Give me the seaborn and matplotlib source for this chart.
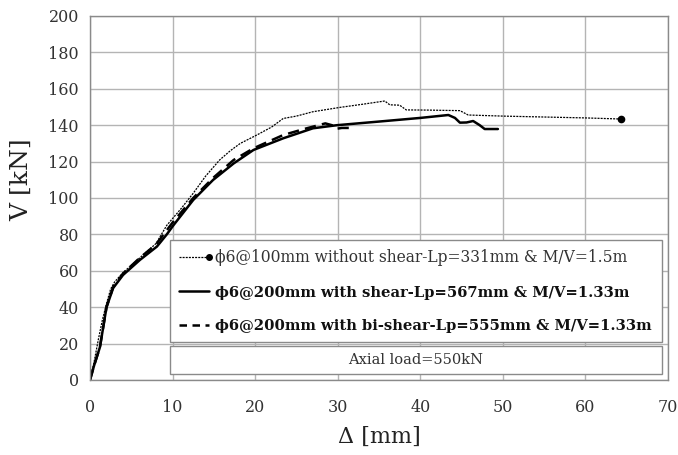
import numpy as np
import pandas as pd
import matplotlib
matplotlib.use("Agg")
import matplotlib.pyplot as plt
import seaborn as sns
from matplotlib.legend_handler import HandlerLine2D
from matplotlib.lines import Line2D
from matplotlib.patches import Rectangle
from matplotlib.ticker import MultipleLocator

# ---- data ----
x_noshear = [0, 0.5, 1.0, 1.5, 2.0, 2.5, 3.0, 4.0, 5.0, 6.0, 8.0, 9.3, 11, 12.5, 14, 15.7, 17, 18.2,
             20.2, 22, 23.4, 25, 27, 30.3, 33, 35.7, 36.3, 37.5, 38.3, 41, 44.8, 45.8, 50, 55, 60, 64.3]
y_noshear = [0, 10, 22, 33, 42, 50, 54, 59, 63, 67, 75, 85, 94, 102.6, 112, 120.9, 126, 130,
             134.6, 139, 143.7, 145, 147.4, 149.8, 151.5, 153.3, 151.2, 151, 148.4, 148.3, 148, 145.6,
             145, 144.5, 144, 143.4]

x_shear = [0, 0.5, 1.2, 2.0, 2.8, 4.0, 6.05, 8.1, 9.3, 10.1, 12.5, 14.9, 17.4, 19.8, 23.4, 27.0,
           29.9, 35, 40, 43.4, 44.2, 44.8, 45.6, 46.4, 47.2, 47.8, 49.4]
y_shear = [0, 8, 18, 40, 50.5, 57.7, 66, 73.3, 80, 85, 98.9, 109.9, 119, 126.4, 132.8, 138.3,
           140, 142, 144, 145.6, 144, 141.4, 141.5, 142.3, 140, 137.9, 137.9]

x_bishear = [0, 0.5, 1.2, 2.0, 2.8, 4.0, 6.0, 8.0, 10.0, 12.5, 14.9, 17.4, 19.8, 23.4, 26, 28.5,
             29.3, 29.8, 30.5, 31.5]
y_bishear = [0, 8, 18, 40, 51, 58.5, 67, 74.5, 86.5, 100, 111, 120.9, 127.3, 134.6, 138, 141,
             140, 138, 138.5, 138.5]

labels = ["ϕ6@100mm without shear-Lp=331mm & M/V=1.5m",
          "ϕ6@200mm with shear-Lp=567mm & M/V=1.33m",
          "ϕ6@200mm with bi-shear-Lp=555mm & M/V=1.33m"]
axial_text = "Axial load=550kN"
x_label = "Δ [mm]"
y_label = "V [kN]"

# ---- style ----
sns.set_style("white")
plt.rcParams["font.family"] = ["DejaVu Serif"]

fig = plt.figure(figsize=(6.78, 4.55), dpi=100)
ax = fig.add_axes([90/678, 1-380/455, 578/678, 364/455])

sns.lineplot(x=x_noshear, y=y_noshear, ax=ax, sort=False, estimator=None,
             color="black", linewidth=0.9, linestyle=(0, (1.6, 0.9)))
sns.lineplot(x=x_shear, y=y_shear, ax=ax, sort=False, estimator=None,
             color="black", linewidth=1.8)
sns.lineplot(x=x_bishear, y=y_bishear, ax=ax, sort=False, estimator=None,
             color="black", linewidth=1.8, linestyle=(0, (4.5, 2.5)))
ax.plot([x_noshear[-1]], [y_noshear[-1]], marker="o", color="black", markersize=4.5)

ax.set_xlim(0, 70)
ax.set_ylim(0, 200)
ax.xaxis.set_major_locator(MultipleLocator(10))
ax.xaxis.set_minor_locator(MultipleLocator(2))
ax.yaxis.set_major_locator(MultipleLocator(20))
ax.yaxis.set_minor_locator(MultipleLocator(4))
ax.grid(True, which="major", color="#b4b4b4", linewidth=1.0)
ax.tick_params(which="major", direction="in", length=6, width=1, color="#707070",
               labelsize=11.5, labelcolor="#333333")
ax.tick_params(which="minor", direction="in", length=3, width=1, color="#707070")
ax.tick_params(axis="y", which="major", pad=8)
ax.tick_params(axis="x", which="major", pad=14)
for s in ax.spines.values():
    s.set_color("#8a8a8a")
    s.set_linewidth(1.0)

ax.set_xlabel(x_label, fontsize=16, color="#222222", labelpad=7)
ax.set_ylabel(y_label, fontsize=18, color="#222222")
ax.yaxis.set_label_coords(-0.099, 0.55)


class EndMarkerHandler(HandlerLine2D):
    def create_artists(self, legend, orig_handle, xdescent, ydescent, width, height,
                       fontsize, trans):
        arts = super().create_artists(legend, orig_handle, xdescent, ydescent, width,
                                      height, fontsize, trans)
        for a in arts:
            a.set_markevery([2])
        return arts


h1 = Line2D([], [], color="black", linewidth=0.9, linestyle=(0, (1.6, 0.9)),
            marker="o", markersize=4)
h2 = Line2D([], [], color="black", linewidth=1.8)
h3 = Line2D([], [], color="black", linewidth=1.8, linestyle=(0, (3, 2.2)))
leg = ax.legend([h1, h2, h3], labels, handler_map={h1: EndMarkerHandler(numpoints=1)},
                loc="upper left", bbox_to_anchor=(0.138, 0.104, 0.852, 0.281),
                mode="expand", borderaxespad=0, fancybox=False, framealpha=1,
                edgecolor="#8a8a8a", fontsize=10.8, handlelength=2.0, handletextpad=0.4,
                labelspacing=1.3, borderpad=0.62)
leg.get_frame().set_linewidth(1.0)
texts = leg.get_texts()
texts[0].set_color("#333333")
texts[0].set_fontsize(11.2)
for t in texts[1:]:
    t.set_fontweight("bold")
    t.set_color("#111111")
    t.set_fontsize(10.65)

ax.add_patch(Rectangle((0.138, 0.016), 0.852, 0.077, transform=ax.transAxes,
                       facecolor="white", edgecolor="#8a8a8a", linewidth=1.0, zorder=5))
ax.text(0.138 + 0.852/2, 0.016 + 0.077/2, axial_text, transform=ax.transAxes,
        ha="center", va="center", fontsize=10.5, color="#333333", zorder=6)

fig.savefig("out.png", dpi=100)
